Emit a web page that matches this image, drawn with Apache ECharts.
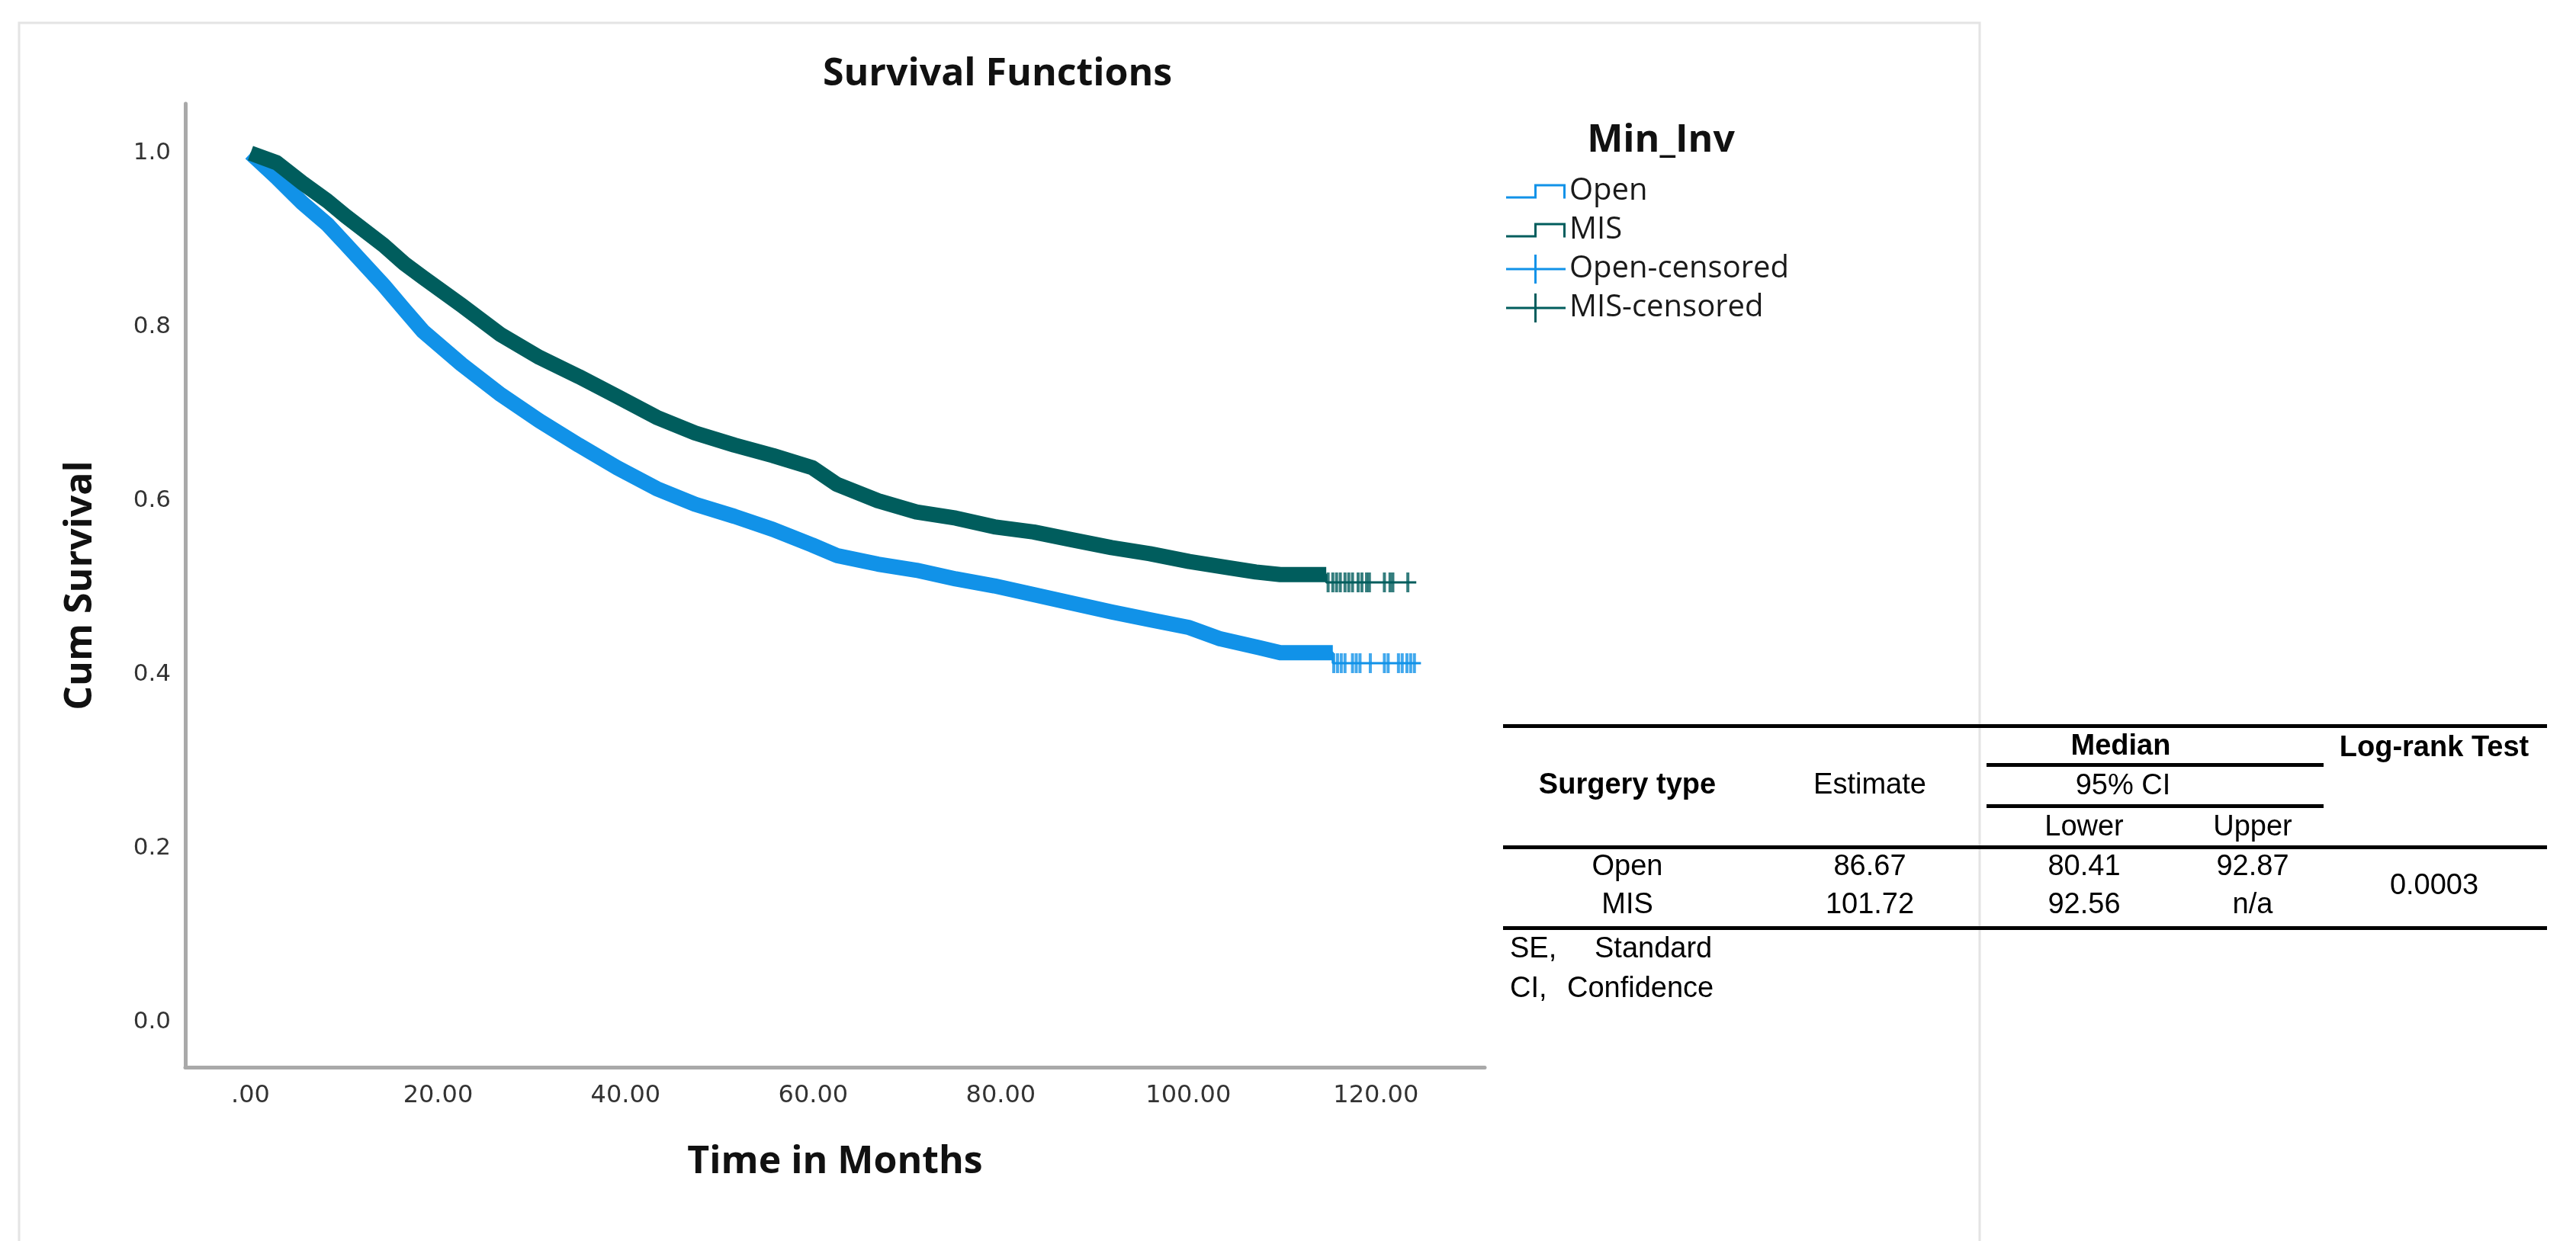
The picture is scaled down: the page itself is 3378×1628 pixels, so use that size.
<!DOCTYPE html>
<html>
<head>
<meta charset="utf-8">
<script src="https://cdn.jsdelivr.net/npm/echarts@6/dist/echarts.min.js"></script>
<style>
html,body{margin:0;padding:0;background:#ffffff;}
#chart{width:3378px;height:1628px;}
</style>
</head>
<body>
<div id="chart"></div>
<script>
// ---------------- DATA ----------------
const openTime = [0, 2.8, 5.5, 8.2, 10.1, 14.2, 16.4, 18.4, 22.5, 26.7, 30.8, 35.0, 39.1, 43.3, 47.4, 51.6, 55.7, 59.9, 62.5, 66.9, 71.0, 75.2, 79.3, 83.5, 87.6, 91.8, 95.9, 100.1, 103.4, 107.5, 109.8, 115.4, 115.4, 124.8];
const openSurv = [1.000, 0.972, 0.943, 0.918, 0.896, 0.848, 0.820, 0.795, 0.757, 0.722, 0.692, 0.664, 0.638, 0.614, 0.596, 0.582, 0.567, 0.549, 0.537, 0.527, 0.520, 0.510, 0.502, 0.492, 0.482, 0.472, 0.463, 0.454, 0.441, 0.431, 0.425, 0.425, 0.413, 0.413];

const misTime = [0, 2.8, 5.5, 8.2, 10.1, 14.2, 16.4, 18.4, 22.5, 26.7, 30.8, 35.0, 39.1, 43.3, 47.4, 51.6, 55.7, 59.9, 62.5, 66.9, 71.0, 75.2, 79.3, 83.5, 87.6, 91.8, 95.9, 100.1, 104.2, 107.2, 109.8, 114.7, 114.7, 124.3];
const misSurv = [1.000, 0.989, 0.966, 0.945, 0.928, 0.894, 0.873, 0.857, 0.825, 0.791, 0.765, 0.743, 0.720, 0.696, 0.678, 0.664, 0.652, 0.638, 0.619, 0.600, 0.587, 0.580, 0.570, 0.564, 0.555, 0.546, 0.539, 0.530, 0.523, 0.518, 0.515, 0.515, 0.506, 0.506];

// dense censoring (reads as a solid band) lasts until these times
const openBandEnd = 115.4;
const misBandEnd = 114.7;

// individually visible censor marks at the tail
const openCensorTime = [115.5, 115.9, 116.3, 116.7, 117.5, 117.9, 118.3, 119.4, 120.9, 121.3, 122.4, 122.8, 123.3, 123.7, 124.1];
const openCensorSurv = [0.413, 0.413, 0.413, 0.413, 0.413, 0.413, 0.413, 0.413, 0.413, 0.413, 0.413, 0.413, 0.413, 0.413, 0.413];
const misCensorTime = [114.9, 115.4, 115.8, 116.2, 116.7, 117.1, 117.5, 118.1, 118.5, 119.0, 119.3, 120.9, 121.5, 121.8, 123.4];
const misCensorSurv = [0.506, 0.506, 0.506, 0.506, 0.506, 0.506, 0.506, 0.506, 0.506, 0.506, 0.506, 0.506, 0.506, 0.506, 0.506];

const xTickValues = [0, 20, 40, 60, 80, 100, 120];
const xTickLabels = ['.00', '20.00', '40.00', '60.00', '80.00', '100.00', '120.00'];
const yTickValues = [0, 0.2, 0.4, 0.6, 0.8, 1.0];
const yTickLabels = ['0.0', '0.2', '0.4', '0.6', '0.8', '1.0'];

const legendNames = ['Open', 'MIS', 'Open-censored', 'MIS-censored'];

const tableHeaderTop = ['Median', 'Log-rank Test'];
const tableHeaderMid = ['Surgery type', 'Estimate', '95% CI'];
const tableHeaderLow = ['Lower', 'Upper'];
const tableGroups = ['Open', 'MIS'];
const tableEstimate = ['86.67', '101.72'];
const tableLower = ['80.41', '92.56'];
const tableUpper = ['92.87', 'n/a'];
const tableLogRank = '0.0003';
const tableNotes = [['SE,', 'Standard'], ['CI,', 'Confidence']];

// ---------------- helpers ----------------
const OPEN = '#1192e8';
const MIS = '#005d5d';
function pairs(T, S) { return T.map((t, i) => [t, S[i]]); }
function band(T, S, end) {
  const out = [];
  for (let i = 0; i < T.length; i++) {
    if (T[i] < end) out.push([T[i], S[i]]);
    else { out.push([T[i], S[i]]); break; }
  }
  return out;
}

const STEP_ICON = 'path://M0 0 L0 0 Z M78 38 L78 38 Z M0 25.5 H40 V28.5 H0 Z M37 9.5 H40 V28.5 H37 Z M37 9.5 H78 V12.5 H37 Z M75 9.5 H78 V28.5 H75 Z';
const CENS_ICON = 'path://M0 0 L0 0 Z M78 38 L78 38 Z M0 17.5 H78 V20.5 H0 Z M37 0 H40 V38 H37 Z';

// ---------------- table graphics ----------------
const TF = 'Liberation Sans, Arial, sans-serif';
function txt(x, y, s, bold, align) {
  return { type: 'text', x: x, y: y, silent: true,
    style: { text: s, fontFamily: TF, fontSize: 38, fontWeight: bold ? 'bold' : 'normal', fill: '#000',
      align: align || 'center', verticalAlign: 'middle' } };
}
function rule(x1, x2, y) {
  return { type: 'rect', silent: true, shape: { x: x1, y: y - 2.5, width: x2 - x1, height: 5 }, style: { fill: '#000' } };
}
const graphics = [
  { type: 'rect', silent: true, shape: { x: 25, y: 30, width: 2571, height: 1700 }, style: { fill: 'none', stroke: '#e4e4e4', lineWidth: 3 } },
  rule(1971, 3340, 952.5),
  rule(2605, 3047, 1003.5),
  rule(2605, 3047, 1057.5),
  rule(1971, 3340, 1111.5),
  rule(1971, 3340, 1217.5),
  txt(2781, 980, tableHeaderTop[0], true),
  txt(3192, 982, tableHeaderTop[1], true),
  txt(2134, 1031, tableHeaderMid[0], true),
  txt(2452, 1031, tableHeaderMid[1], false),
  txt(2784, 1032, tableHeaderMid[2], false),
  txt(2733, 1086, tableHeaderLow[0], false),
  txt(2954, 1086, tableHeaderLow[1], false),
  txt(3192, 1163, tableLogRank, false),
  txt(1980, 1246, tableNotes[0][0], false, 'left'),
  txt(2091, 1246, tableNotes[0][1], false, 'left'),
  txt(1980, 1298, tableNotes[1][0], false, 'left'),
  txt(2055, 1298, tableNotes[1][1], false, 'left')
];
const rowY = [1138, 1188];
tableGroups.forEach((g, i) => {
  graphics.push(txt(2134, rowY[i], g, false));
  graphics.push(txt(2452, rowY[i], tableEstimate[i], false));
  graphics.push(txt(2733, rowY[i], tableLower[i], false));
  graphics.push(txt(2954, rowY[i], tableUpper[i], false));
});

// ---------------- chart ----------------
const chart = echarts.init(document.getElementById('chart'), null, { renderer: 'canvas' });
const TITLE_FONT = { fontFamily: 'Open Sans', fontWeight: 'bold', fontSize: 50, color: '#111' };

chart.setOption({
  animation: false,
  backgroundColor: '#ffffff',
  title: [
    { text: 'Survival Functions', left: 1308, top: 73, textAlign: 'center', padding: 0, textStyle: TITLE_FONT },
    { text: 'Min_Inv', left: 2178, top: 160, textAlign: 'center', padding: 0, textStyle: TITLE_FONT }
  ],
  legend: {
    orient: 'vertical', left: 1975, top: 231, padding: 0,
    itemWidth: 78, itemHeight: 38, itemGap: 11,
    selectedMode: false,
    itemStyle: { borderWidth: 0 },
    textStyle: { fontFamily: 'Open Sans', fontSize: 40, color: '#1a1a1a' },
    data: [
      { name: legendNames[0], icon: STEP_ICON },
      { name: legendNames[1], icon: STEP_ICON },
      { name: legendNames[2], icon: CENS_ICON },
      { name: legendNames[3], icon: CENS_ICON }
    ]
  },
  grid: { left: 243, top: 136, width: 1704, height: 1264, containLabel: false, outerBoundsMode: 'none' },
  xAxis: {
    type: 'value', min: -6.95, max: 131.6,
    axisLine: { show: true, onZero: false, lineStyle: { color: '#a9a9a9', width: 5 } },
    axisTick: { show: false },
    splitLine: { show: false },
    axisLabel: {
      customValues: xTickValues,
      formatter: v => xTickLabels[xTickValues.indexOf(Math.round(v))],
      fontFamily: 'DejaVu Sans', fontSize: 32, color: '#333', margin: 22
    },
    name: 'Time in Months', nameLocation: 'middle', nameGap: 100,
    nameTextStyle: TITLE_FONT
  },
  yAxis: {
    type: 'value', min: -0.052, max: 1.057,
    axisLine: { show: true, onZero: false, lineStyle: { color: '#a9a9a9', width: 5 } },
    axisTick: { show: false },
    splitLine: { show: false },
    axisLabel: {
      customValues: yTickValues,
      formatter: v => yTickLabels[Math.round(v * 5)],
      fontFamily: 'DejaVu Sans', fontSize: 31, color: '#333', margin: 19
    },
    name: 'Cum Survival', nameLocation: 'middle', nameGap: 112, nameRotate: 90,
    nameTextStyle: TITLE_FONT
  },
  series: [
    { name: 'Open', type: 'line', data: pairs(openTime, openSurv), symbol: 'none', silent: true,
      lineStyle: { color: OPEN, width: 3 }, itemStyle: { color: OPEN } },
    { name: 'Open-censored', type: 'line', data: band(openTime, openSurv, openBandEnd), symbol: 'none', silent: true,
      lineStyle: { color: OPEN, width: 20, join: 'round' }, itemStyle: { color: OPEN } },
    { name: 'Open-censored', type: 'scatter', data: pairs(openCensorTime, openCensorSurv), symbol: 'rect', symbolSize: [4, 26], silent: true,
      itemStyle: { color: OPEN } },
    { name: 'MIS', type: 'line', data: pairs(misTime, misSurv), symbol: 'none', silent: true,
      lineStyle: { color: MIS, width: 3 }, itemStyle: { color: MIS } },
    { name: 'MIS-censored', type: 'line', data: band(misTime, misSurv, misBandEnd), symbol: 'none', silent: true,
      lineStyle: { color: MIS, width: 20, join: 'round' }, itemStyle: { color: MIS } },
    { name: 'MIS-censored', type: 'scatter', data: pairs(misCensorTime, misCensorSurv), symbol: 'rect', symbolSize: [4, 26], silent: true,
      itemStyle: { color: MIS } }
  ],
  graphic: { elements: graphics }
});
</script>
</body>
</html>
